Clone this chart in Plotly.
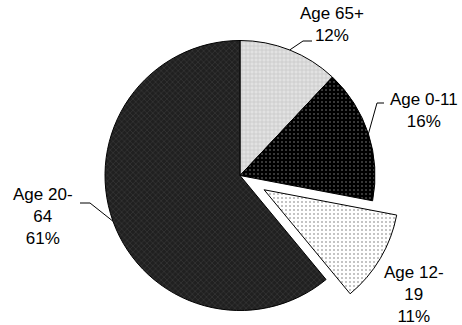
import math
import plotly.graph_objects as go

# Age-group shares, clockwise from 12 o'clock
groups = ["Age 65+", "Age 0-11", "Age 12-19", "Age 20-64"]
label_lines = ["Age 65+", "Age 0-11", "Age 12-<br>19", "Age 20-<br>64"]
shares = [12, 16, 11, 61]
pulled = "Age 12-19"

W, H = 462, 325
CX, CY, R = 240, 175.5, 135      # pie centre / radius in px
PULL_PX = 28                      # offset of the exploded slice

bg = ["#e2e2e2", "#000000", "#ffffff", "#202020"]
fg = ["#c4c4c4", "#4a4a4a", "#b0b0b0", "#383838"]
shapes_pat = ["+", ".", ".", "x"]
solid = [0.3, 0.2, 0.2, 0.3]


def box(cx, cy, r):
    """Pie domain (paper coords) for a circle centred at pixel (cx, cy)."""
    return dict(x=[(cx - r) / W, (cx + r) / W],
                y=[max(0, (H - cy - r) / H), min(1, (H - cy + r) / H)])


total = sum(shares)
cum = 0
mid_angle = {}
for g, v in zip(groups, shares):
    mid_angle[g] = (cum + v / 2) / total * 2 * math.pi   # clockwise from top
    cum += v

k = groups.index(pulled)
a = mid_angle[pulled]
dx, dy = PULL_PX * math.sin(a), -PULL_PX * math.cos(a)


def pie_trace(show, domain):
    return go.Pie(
        labels=groups, values=shares, sort=False, direction="clockwise", rotation=0,
        textinfo="none", hoverinfo="skip", showlegend=False, domain=domain,
        marker=dict(
            colors=[c if show(i) else "rgba(0,0,0,0)" for i, c in enumerate(bg)],
            line=dict(color="#000000", width=[1 if show(i) else 0 for i in range(4)]),
            pattern=dict(
                shape=[s if show(i) else "" for i, s in enumerate(shapes_pat)],
                fgcolor=fg,
                bgcolor=[c if show(i) else "rgba(0,0,0,0)" for i, c in enumerate(bg)],
                size=4, solidity=solid, fillmode="replace"),
        ),
    )


fig = go.Figure()
# main pie: every slice except the exploded one
fig.add_trace(pie_trace(lambda i: i != k, box(CX, CY, R)))
# exploded slice, drawn on a shifted copy of the pie
fig.add_trace(pie_trace(lambda i: i == k, box(CX + dx, CY + dy, R)))


def px(x, y):
    return x / W, 1 - y / H


# label text positions (px) and leader-line elbows
label_pos = {
    "Age 65+": (332, 25),
    "Age 0-11": (424, 110),
    "Age 12-19": (414, 294),
    "Age 20-64": (43, 216),
}
elbows = {
    "Age 65+": [(303, 41), (312, 41)],
    "Age 0-11": [(377, 103), (384, 103)],
    "Age 20-64": [(90, 203), (80, 203)],
}

for g, txt, v in zip(groups, label_lines, shares):
    lx, ly = label_pos[g]
    x, y = px(lx, ly)
    fig.add_annotation(x=x, y=y, xref="paper", yref="paper", showarrow=False,
                       xanchor="center", yanchor="middle",
                       text=f"{txt}<br>{v}%", align="center",
                       font=dict(family="Liberation Sans, Arial", size=17, color="#000"))
    if g in elbows:
        ang = mid_angle[g]
        sx, sy = CX + R * math.sin(ang), CY - R * math.cos(ang)
        pts = [(sx, sy)] + elbows[g]
        path = "M " + " L ".join(f"{px(p[0], p[1])[0]},{px(p[0], p[1])[1]}" for p in pts)
        fig.add_shape(type="path", path=path, xref="paper", yref="paper",
                      line=dict(color="#000", width=1))

fig.update_layout(width=W, height=H, margin=dict(l=0, r=0, t=0, b=0),
                  paper_bgcolor="#ffffff", plot_bgcolor="#ffffff")

fig.write_html("out.html")
